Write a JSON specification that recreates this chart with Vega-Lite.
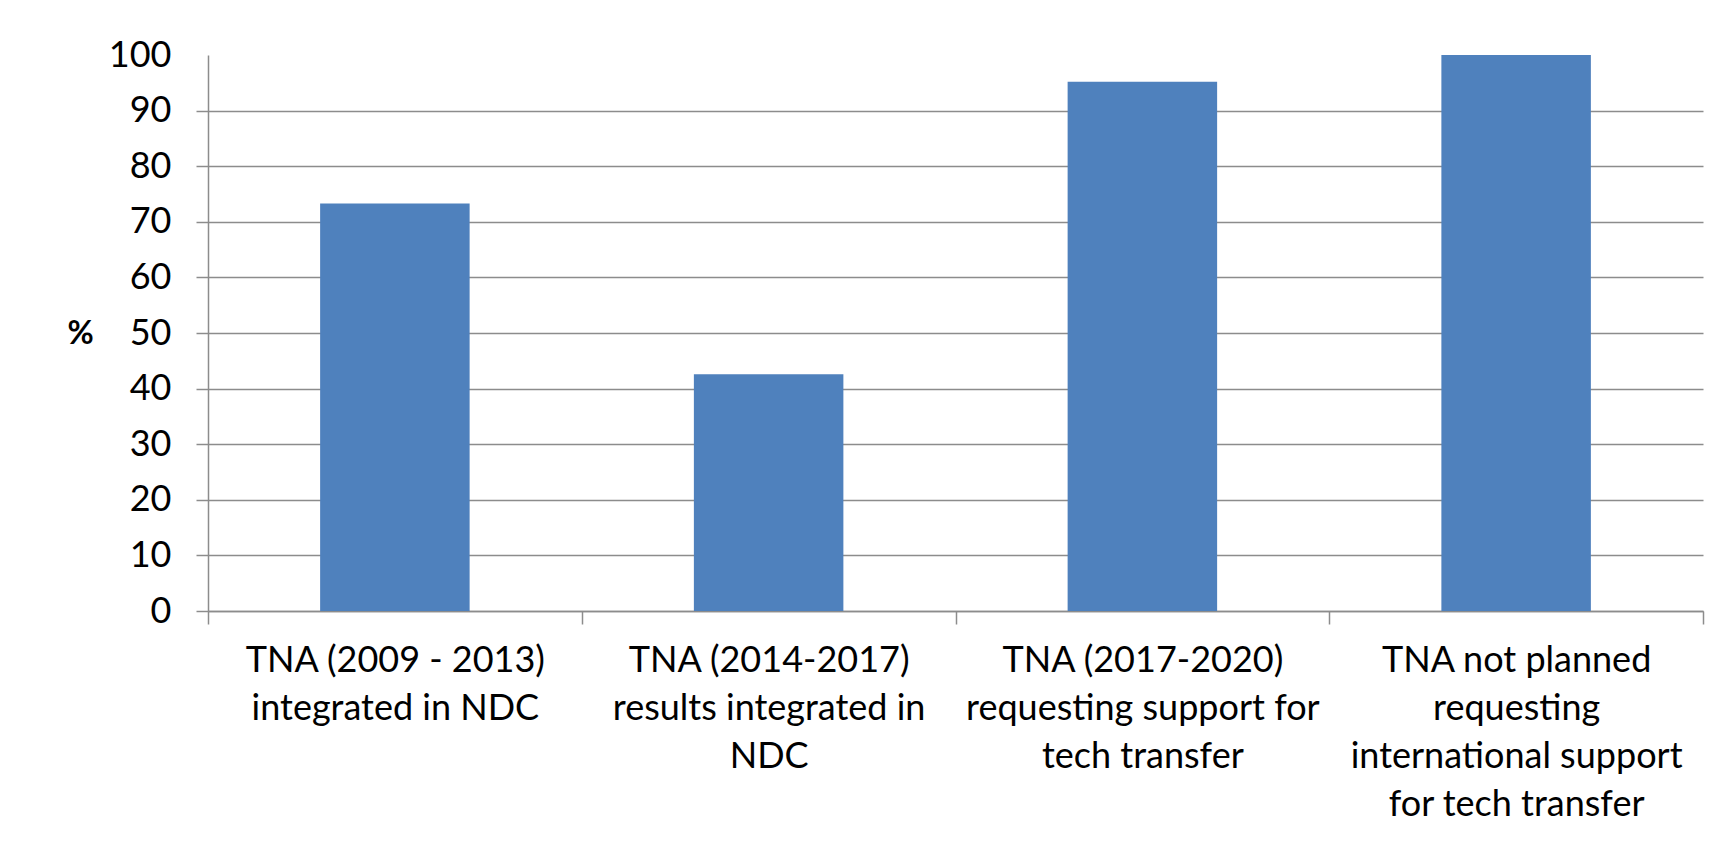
{
  "$schema": "https://vega.github.io/schema/vega-lite/v6.json",
  "width": 1495,
  "height": 556,
  "autosize": {"type": "none"},
  "padding": {"left": 208, "top": 55, "right": 23, "bottom": 234},
  "background": "white",
  "config": {"view": {"stroke": null}, "font": "Lato"},
  "data": {
    "values": [
      {"category": "TNA (2009 - 2013)\nintegrated in NDC", "percent": 73.3},
      {"category": "TNA (2014-2017)\nresults integrated in\nNDC", "percent": 42.6},
      {"category": "TNA (2017-2020)\nrequesting support for\ntech transfer", "percent": 95.2},
      {"category": "TNA not planned\nrequesting\ninternational support\nfor tech transfer", "percent": 100}
    ]
  },
  "mark": {"type": "bar", "color": "#4F81BD", "width": {"band": 0.4}},
  "encoding": {
    "x": {
      "field": "category",
      "type": "nominal",
      "sort": null,
      "scale": {"paddingInner": 0, "paddingOuter": 0},
      "axis": {
        "title": null,
        "labelAngle": 0,
        "labelExpr": "split(datum.label, '\\n')",
        "labelFont": "Lato",
        "labelFontSize": 36,
        "labelColor": "#000000",
        "labelLineHeight": 48,
        "labelBaseline": "alphabetic",
        "labelAlign": "center",
        "labelPadding": 47,
        "labelLimit": 0,
        "tickBand": "extent",
        "tickSize": 13,
        "tickColor": "#8c8c8c",
        "tickWidth": 1.5,
        "domainColor": "#8c8c8c",
        "domainWidth": 1.5,
        "grid": false
      }
    },
    "y": {
      "field": "percent",
      "type": "quantitative",
      "scale": {"domain": [0, 100], "nice": false},
      "axis": {
        "title": "%",
        "titleAngle": 0,
        "titleFont": "Lato",
        "titleFontSize": 32,
        "titleFontWeight": "bold",
        "titleColor": "#000000",
        "titleAlign": "center",
        "titleBaseline": "middle",
        "titleX": -128,
        "titleY": 278,
        "values": [0, 10, 20, 30, 40, 50, 60, 70, 80, 90, 100],
        "labelFont": "Lato",
        "labelFontSize": 36,
        "labelColor": "#000000",
        "labelPadding": 25,
        "tickSize": 12,
        "tickColor": "#8c8c8c",
        "tickWidth": 1.5,
        "tickOpacity": {"condition": {"test": "datum.value >= 100", "value": 0}, "value": 1},
        "domainColor": "#8c8c8c",
        "domainWidth": 1.5,
        "grid": true,
        "gridColor": "#8c8c8c",
        "gridWidth": 1.5,
        "gridOpacity": {"condition": {"test": "datum.value >= 100", "value": 0}, "value": 1}
      }
    }
  }
}
